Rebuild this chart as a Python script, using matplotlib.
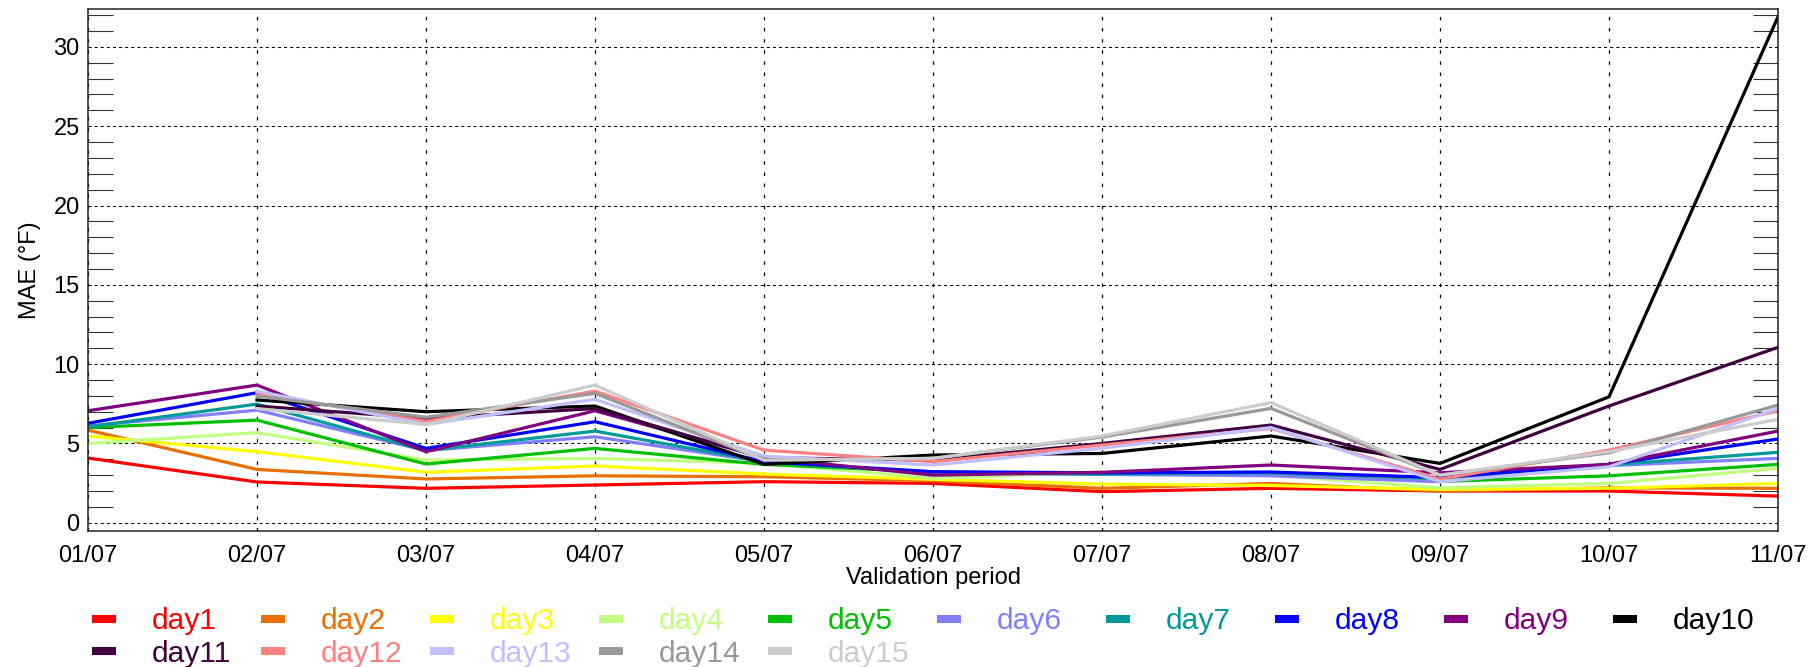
import numpy as np
import matplotlib.pyplot as plt
from matplotlib.lines import Line2D

plt.rcParams['font.family'] = ['Liberation Sans', 'DejaVu Sans']
plt.rcParams['lines.scale_dashes'] = False

# ---- data ----
dates = ['01/07', '02/07', '03/07', '04/07', '05/07', '06/07',
         '07/07', '08/07', '09/07', '10/07', '11/07']
nan = np.nan

day1 = [4.08, 2.57, 2.17, 2.38, 2.59, 2.48, 1.96, 2.17, 2.00, 2.00, 1.68]
day2 = [5.84, 3.36, 2.76, 2.96, 2.90, 2.65, 2.17, 2.48, 2.00, 2.20, 2.17]
day3 = [5.47, 4.48, 3.18, 3.58, 3.07, 2.74, 2.44, 2.35, 2.10, 2.17, 2.48]
day4 = [5.00, 5.68, 3.95, 4.06, 3.75, 2.80, 3.20, 3.00, 2.20, 2.48, 3.43]
day5 = [6.00, 6.47, 3.70, 4.69, 3.68, 3.20, 3.07, 3.10, 2.60, 2.96, 3.68]
day6 = [6.10, 7.10, 4.55, 5.42, 3.85, 3.15, 3.05, 2.96, 2.59, 3.60, 4.06]
day7 = [6.05, 7.48, 4.55, 5.78, 3.85, 3.15, 3.07, 3.15, 2.80, 3.65, 4.44]
day8 = [6.27, 8.20, 4.69, 6.37, 3.85, 3.22, 3.15, 3.20, 2.85, 3.68, 5.28]
day9 = [7.06, 8.68, 4.48, 7.06, 4.10, 3.00, 3.18, 3.64, 3.15, 3.68, 5.78]
day10 = [nan, 7.74, 7.00, 7.36, 3.68, 4.27, 4.37, 5.47, 3.74, 7.94, 31.90]
day11 = [nan, 7.36, 6.58, 7.20, 4.10, 3.95, 5.00, 6.16, 3.36, 7.36, 11.06]
day12 = [nan, 8.15, 6.40, 8.30, 4.58, 3.85, 4.90, 5.95, 2.75, 4.58, 7.06]
day13 = [nan, 8.30, 6.20, 7.78, 4.20, 3.64, 4.70, 6.00, 2.59, 3.53, 7.20]
day14 = [nan, 7.99, 6.65, 8.16, 3.95, 4.06, 5.40, 7.21, 3.00, 4.41, 7.42]
day15 = [nan, 7.20, 6.20, 8.68, 3.95, 4.06, 5.47, 7.57, 3.00, 4.48, 6.52]

series = [day1, day2, day3, day4, day5, day6, day7, day8,
          day9, day10, day11, day12, day13, day14, day15]
labels = ['day%d' % (i + 1) for i in range(15)]
colors = ['#FF0000', '#E87000', '#FFFF00', '#C0FF80', '#00C000',
          '#8080FF', '#009A9A', '#0000FF', '#800080', '#000000',
          '#400040', '#FF8080', '#C0C0FF', '#999999', '#CCCCCC']

W, H = 1814, 667
fig = plt.figure(figsize=(W / 100, H / 100), dpi=100)
ax = fig.add_axes([88 / W, 1 - 531 / H, (1778 - 88) / W, (531 - 9) / H])

x = np.arange(len(dates))
for y, c in zip(series, colors):
    ax.plot(x, y, color=c, lw=2.3, solid_joinstyle='miter')

ax.set_xlim(0, len(dates) - 1)
ax.set_ylim(-0.52, 32.39)
ax.set_xticks(x)
ax.set_xticklabels(dates)
ax.set_yticks(np.arange(0, 31, 5))
ax.set_yticks(np.arange(0, 33, 1), minor=True)

# IDL-like ticks: minor ticks inside on both y sides, no visible majors
ax.tick_params(axis='x', length=0, pad=10, labelsize=17)
ax.tick_params(axis='y', which='major', length=0, pad=6, labelsize=17,
               left=True, right=True)
ax.tick_params(axis='y', which='minor', direction='in', length=18,
               width=0.8, color='#333333', left=True, right=True)

ax.yaxis.grid(True, color='black', lw=0.75, linestyle=(0, (2.2, 2.2)))
ax.xaxis.grid(True, color='black', lw=0.9, linestyle=(0, (2.5, 5.5)))
for s in ax.spines.values():
    s.set_linewidth(1.1)
    s.set_color('#222222')

ax.set_ylabel('MAE (°F)', fontsize=17, labelpad=9)
ax.set_xlabel('Validation period', fontsize=17, labelpad=0)

# legend: two rows, evenly spaced columns with coloured labels
step = 169
for i, (lab, c) in enumerate(zip(labels, colors)):
    row, col = divmod(i, 10)
    yc = [619, 651][row]
    yb = [629, 662][row]
    x0 = 92 + step * col
    fig.add_artist(Line2D([x0 / W, (x0 + 24) / W], [1 - yc / H, 1 - yc / H],
                          transform=fig.transFigure, color=c, lw=5.8,
                          solid_capstyle='butt'))
    fig.text((x0 + 60) / W, 1 - yb / H, lab, color=c, fontsize=21.6,
             ha='left', va='baseline')

fig.savefig('out.png', dpi=100)
